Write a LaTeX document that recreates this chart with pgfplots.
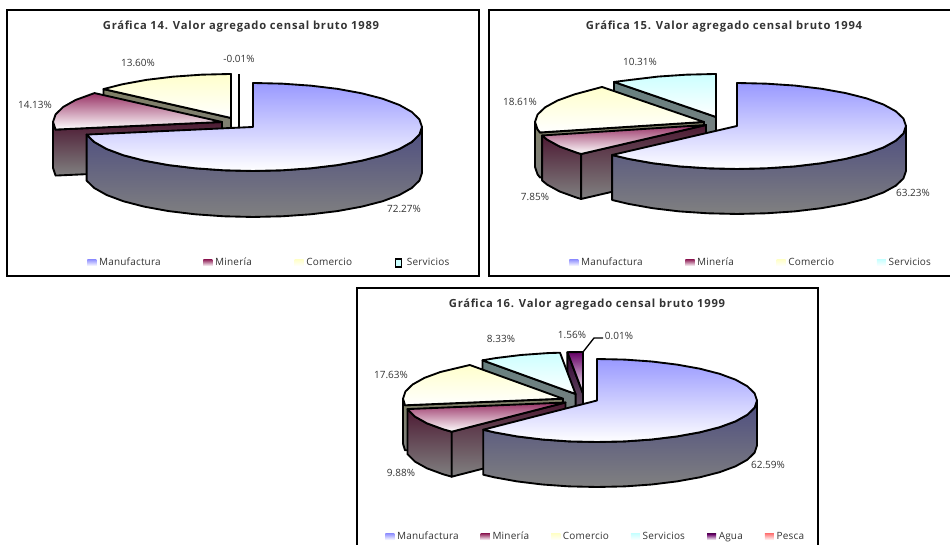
\documentclass[border=0pt]{standalone}
\usepackage{pgfplots}
\pgfplotsset{compat=1.18}
\usepackage{fontspec}
\setmainfont{Open Sans}
\definecolor{cManu}{HTML}{9999FF}
\definecolor{cMine}{HTML}{993366}
\definecolor{cCome}{HTML}{FFFFCC}
\definecolor{cServ}{HTML}{CCFFFF}
\definecolor{cAgua}{HTML}{660066}
\definecolor{cPesc}{HTML}{FF8080}
\definecolor{wManu}{HTML}{4D4D80}
\definecolor{wMine}{HTML}{4D1A33}
\definecolor{wCome}{HTML}{808066}
\definecolor{wServ}{HTML}{668080}
\definecolor{wAgua}{HTML}{330033}
\definecolor{wEnd}{HTML}{808080}
\definecolor{txt}{HTML}{333333}
\tikzset{
  topface/.style={top color=#1,bottom color=white,draw=black,line width=1.4pt,line join=round},
  sideface/.style={top color=#1,bottom color=wEnd,draw=black,line width=1.4pt,line join=round},
  lab/.style={font=\fontsize{7.5}{8}\selectfont,text=txt,inner sep=0pt,anchor=center}
}
\pgfplotsset{
  every axis title shift=0pt,
  panel/.style={
    scale only axis,clip=false,y dir=reverse,xtick=\empty,ytick=\empty,
    axis line style={line width=1.5pt},
    title style={font=\bfseries\fontsize{8.4}{9}\selectfont\addfontfeatures{LetterSpace=7},text=txt,inner sep=0pt,anchor=center},
    legend columns=-1,
    legend style={draw=none,fill=none,inner sep=0pt,anchor=west,
      font=\fontsize{7.5}{8}\selectfont\addfontfeatures{LetterSpace=2},text=txt,
      /tikz/every even column/.append style={column sep=#1}},
  },
  swatch/.style={legend image code/.code={\path[draw=none,top color=#1,bottom color=white] (0cm,-0.08cm) rectangle (0.24cm,0.08cm);}},
  swatchbox/.style={legend image code/.code={\path[fill=#1,draw=black,line width=1.2pt] (0.02cm,-0.1cm) rectangle (0.17cm,0.1cm);\path (0.24cm,0cm);}},
}
\begin{document}
\begin{tikzpicture}
\path[use as bounding box] (0,0) rectangle (712.5pt,408.75pt);
%% ---------- Grafica 14
\begin{axis}[panel=30pt,at={(5.25pt,201.75pt)},anchor=south west,width=354pt,height=199.5pt,
  xmin=7,xmax=479,ymin=10,ymax=276,
  title={Gráfica 14. Valor agregado censal bruto 1989},
  title style={at={(axis cs:241,27)}},
  legend style={at={(axis cs:87,263)}}]
\addlegendimage{swatch=cManu}\addlegendentry{Manufactura}
\addlegendimage{swatch=cMine}\addlegendentry{Minería}
\addlegendimage{swatch=cCome}\addlegendentry{Comercio}
\addlegendimage{swatchbox=cServ}\addlegendentry{Servicios}
\addplot[black,line width=1.4pt] coordinates {(239,74) (239,127)};
\addplot[sideface=wCome] coordinates {(103.5,89.1) (231,118) (231,164) (103.5,135)} -- cycle;
\addplot[topface=cCome] coordinates {(231,118) (103.5,89.1) (122.4,84.3) (146.5,79.9) (173.2,76.7) (201.7,74.7) (231,74)} -- cycle;
\addplot[sideface=wMine] coordinates {(53,122) (55.6,129.6) (222,122) (222,168) (55.6,175.6) (53,168)} -- cycle;
\addplot[topface=cMine] coordinates {(222,122) (55.6,129.6) (53,122) (55.6,114.4) (63.2,107) (75.6,100) (94.5,93.1)} -- cycle;
\addplot[sideface=wManu] coordinates {(422,127) (419.4,134.6) (411.8,142) (399.4,149) (382.5,155.3) (361.6,160.7) (337.5,165.1) (310.8,168.3) (282.3,170.3) (253,171) (223.7,170.3) (195.2,168.3) (168.5,165.1) (144.4,160.7) (123.5,155.3) (106.6,149) (94.2,142) (86.6,134.6) (86.6,180.6) (94.2,188) (106.6,195) (123.5,201.3) (144.4,206.7) (168.5,211.1) (195.2,214.3) (223.7,216.3) (253,217) (282.3,216.3) (310.8,214.3) (337.5,211.1) (361.6,206.7) (382.5,201.3) (399.4,195) (411.8,188) (419.4,180.6) (422,173)} -- cycle;
\addplot[topface=cManu] coordinates {(253,127) (253,83) (282.3,83.7) (310.8,85.7) (337.5,88.9) (361.6,93.3) (382.5,98.7) (399.4,105) (411.8,112) (419.4,119.4) (422,127) (419.4,134.6) (411.8,142) (399.4,149) (382.5,155.3) (361.6,160.7) (337.5,165.1) (310.8,168.3) (282.3,170.3) (253,171) (223.7,170.3) (195.2,168.3) (168.5,165.1) (144.4,160.7) (123.5,155.3) (106.6,149) (94.2,142) (86.6,134.6)} -- cycle;
\node[lab] at (axis cs:138,63) {13.60\%};
\node[lab] at (axis cs:239,59) {-0.01\%};
\node[lab] at (axis cs:35,105) {14.13\%};
\node[lab] at (axis cs:404,209) {72.27\%};
\end{axis}
%% ---------- Grafica 15
\begin{axis}[panel=30pt,at={(366.75pt,201.75pt)},anchor=south west,width=347.25pt,height=199.5pt,
  xmin=489,xmax=952,ymin=10,ymax=276,
  title={Gráfica 15. Valor agregado censal bruto 1994},
  title style={at={(axis cs:724,27)}},
  legend style={at={(axis cs:569,263)}}]
\addlegendimage{swatch=cManu}\addlegendentry{Manufactura}
\addlegendimage{swatch=cMine}\addlegendentry{Minería}
\addlegendimage{swatch=cCome}\addlegendentry{Comercio}
\addlegendimage{swatch=cServ}\addlegendentry{Servicios}
\addplot[sideface=wServ] coordinates {(614,82) (716,117) (716,162) (614,127)} -- cycle;
\addplot[topface=cServ] coordinates {(716,117) (614,82) (631.5,79.8) (658.2,76.6) (686.7,74.7) (716,74)} -- cycle;
\addplot[sideface=wCome] coordinates {(535,122) (537.6,129.5) (540,132.5) (704,122) (704,167) (540,177.5) (537.6,174.5) (535,167)} -- cycle;
\addplot[topface=cCome] coordinates {(704,122) (540,132.5) (537.6,129.5) (535,122) (537.6,114.5) (545.2,107.3) (557.6,100.5) (574.5,94.4) (602,87)} -- cycle;
\addplot[sideface=wMine] coordinates {(542.1,135.5) (547.2,139.7) (559.6,146.5) (576.5,152.6) (581.1,154) (581.1,199) (576.5,197.6) (559.6,191.5) (547.2,184.7) (542.1,180.5)} -- cycle;
\addplot[sideface=wMine] coordinates {(581.1,154) (706,125) (706,170) (581.1,199)} -- cycle;
\addplot[topface=cMine] coordinates {(706,125) (581.1,154) (576.5,152.6) (559.6,146.5) (547.2,139.7) (542.1,135.5)} -- cycle;
\addplot[sideface=wManu] coordinates {(906,126) (903.4,133.5) (895.8,140.7) (883.4,147.5) (866.5,153.6) (845.6,158.9) (821.5,163.2) (794.8,166.4) (766.3,168.3) (737,169) (707.7,168.3) (679.2,166.4) (652.5,163.2) (628.4,158.9) (612.1,155) (612.1,200) (628.4,203.9) (652.5,208.2) (679.2,211.4) (707.7,213.3) (737,214) (766.3,213.3) (794.8,211.4) (821.5,208.2) (845.6,203.9) (866.5,198.6) (883.4,192.5) (895.8,185.7) (903.4,178.5) (906,171)} -- cycle;
\addplot[topface=cManu] coordinates {(737,126) (737,83) (766.3,83.7) (794.8,85.6) (821.5,88.8) (845.6,93.1) (866.5,98.4) (883.4,104.5) (895.8,111.3) (903.4,118.5) (906,126) (903.4,133.5) (895.8,140.7) (883.4,147.5) (866.5,153.6) (845.6,158.9) (821.5,163.2) (794.8,166.4) (766.3,168.3) (737,169) (707.7,168.3) (679.2,166.4) (652.5,163.2) (628.4,158.9) (612.1,155)} -- cycle;
\node[lab] at (axis cs:640,62) {10.31\%};
\node[lab] at (axis cs:520,102) {18.61\%};
\node[lab] at (axis cs:535,197) {7.85\%};
\node[lab] at (axis cs:913,193) {63.23\%};
\end{axis}
%% ---------- Grafica 16
\begin{axis}[panel=14.5pt,at={(267.75pt,-1.5pt)},anchor=south west,width=345.75pt,height=194.25pt,
  xmin=357,xmax=818,ymin=288,ymax=547,
  title={Gráfica 16. Valor agregado censal bruto 1999},
  title style={at={(axis cs:587,305)}},
  legend style={at={(axis cs:385,537)}}]
\addlegendimage{swatch=cManu}\addlegendentry{Manufactura}
\addlegendimage{swatch=cMine}\addlegendentry{Minería}
\addlegendimage{swatch=cCome}\addlegendentry{Comercio}
\addlegendimage{swatch=cServ}\addlegendentry{Servicios}
\addlegendimage{swatch=cAgua}\addlegendentry{Agua}
\addlegendimage{swatch=cPesc}\addlegendentry{Pesca}
\addplot[black,line width=1pt] coordinates {(583,352) (594,338) (603,338)};
\addplot[sideface=wAgua] coordinates {(567.4,352.2) (583,393.5) (583,438.5) (567.4,397.2)} -- cycle;
\addplot[topface=cAgua] coordinates {(583,393.5) (567.4,352.2) (583,352)} -- cycle;
\addplot[sideface=wServ] coordinates {(482.5,360.3) (575.6,394) (575.6,439) (482.5,405.3)} -- cycle;
\addplot[topface=cServ] coordinates {(575.6,394) (482.5,360.3) (495.6,358.1) (520.9,355) (547.8,353.1) (560,352.7)} -- cycle;
\addplot[sideface=wCome] coordinates {(403,398.7) (405,405.3) (563,398.7) (563,443.7) (405,450.3) (403,443.7)} -- cycle;
\addplot[topface=cCome] coordinates {(563,398.7) (405,405.3) (403,398.7) (405.4,391.5) (412.6,384.5) (424.4,377.9) (440.4,372) (469.8,365)} -- cycle;
\addplot[sideface=wMine] coordinates {(407.5,409.1) (415.1,416.7) (426.9,423.3) (442.9,429.2) (451.7,431.7) (451.7,476.7) (442.9,474.2) (426.9,468.3) (415.1,461.7) (407.5,454.1)} -- cycle;
\addplot[sideface=wMine] coordinates {(451.7,431.7) (565.5,402.5) (565.5,447.5) (451.7,476.7)} -- cycle;
\addplot[topface=cMine] coordinates {(565.5,402.5) (451.7,431.7) (442.9,429.2) (426.9,423.3) (415.1,416.7) (407.5,409.1)} -- cycle;
\addplot[sideface=wManu] coordinates {(757,400.5) (754.6,407.7) (747.4,414.7) (735.6,421.3) (719.6,427.2) (699.8,432.3) (677,436.4) (651.7,439.5) (624.8,441.4) (597,442) (569.2,441.4) (542.3,439.5) (517,436.4) (494.2,432.3) (483.2,429.7) (483.2,474.7) (494.2,477.3) (517,481.4) (542.3,484.5) (569.2,486.4) (597,487) (624.8,486.4) (651.7,484.5) (677,481.4) (699.8,477.3) (719.6,472.2) (735.6,466.3) (747.4,459.7) (754.6,452.7) (757,445.5)} -- cycle;
\addplot[topface=cManu] coordinates {(597,400.5) (597,359) (624.8,359.6) (651.7,361.5) (677,364.6) (699.8,368.7) (719.6,373.8) (735.6,379.7) (747.4,386.3) (754.6,393.3) (757,400.5) (754.6,407.7) (747.4,414.7) (735.6,421.3) (719.6,427.2) (699.8,432.3) (677,436.4) (651.7,439.5) (624.8,441.4) (597,442) (569.2,441.4) (542.3,439.5) (517,436.4) (494.2,432.3) (483.2,429.7)} -- cycle;
\node[lab] at (axis cs:619,336) {0.01\%};
\node[lab] at (axis cs:572,335) {1.56\%};
\node[lab] at (axis cs:501,339) {8.33\%};
\node[lab] at (axis cs:391,375) {17.63\%};
\node[lab] at (axis cs:401,473) {9.88\%};
\node[lab] at (axis cs:768,465) {62.59\%};
\end{axis}
\end{tikzpicture}
\end{document}
